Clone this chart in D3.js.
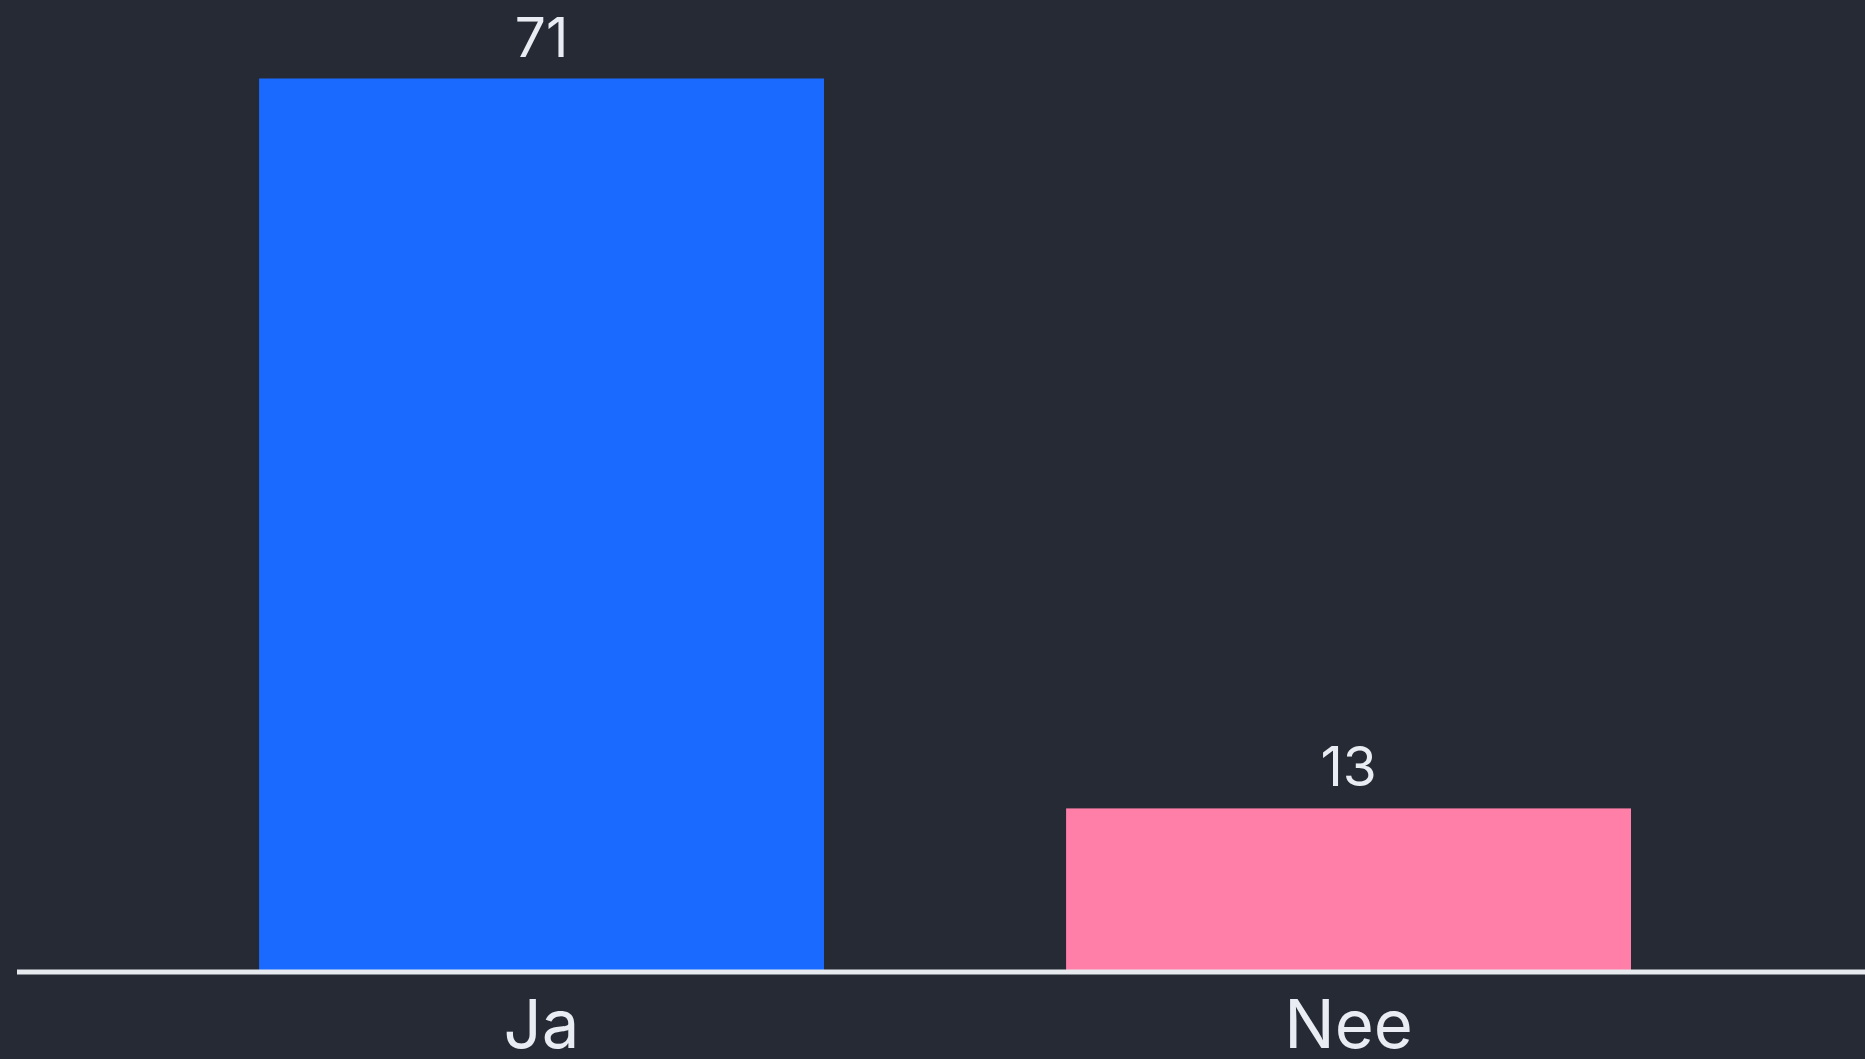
<!DOCTYPE html>
<html>
<head>
<meta charset="utf-8">
<script src="https://cdn.jsdelivr.net/npm/d3@7"></script>
<style>
  html, body { margin: 0; padding: 0; background: #262a34; overflow: hidden; }
  svg { display: block; }
</style>
</head>
<body>
<svg id="chart" width="1865" height="1059"></svg>
<script>
const categories = ["Ja", "Nee"];
const values = [71, 13];
const colors = ["#1a6aff", "#ff7fa8"];

const W = 1865, H = 1059;
const baseY = 972;
const svg = d3.select("#chart");
svg.append("rect").attr("width", W).attr("height", H).attr("fill", "#262a34");

const x = d3.scaleBand()
  .domain(categories)
  .range([17, 17 + 807 * 2.3])
  .paddingInner(0.3)
  .paddingOuter(0.3);

const y = d3.scaleLinear().domain([0, 71]).range([baseY, 78.5]);

const data = categories.map((c, i) => ({ c, v: values[i], col: colors[i] }));

svg.selectAll("rect.bar").data(data).enter().append("rect")
  .attr("class", "bar")
  .attr("x", d => x(d.c))
  .attr("width", x.bandwidth())
  .attr("y", d => y(d.v))
  .attr("height", d => baseY - y(d.v))
  .attr("fill", d => d.col);

svg.selectAll("text.val").data(data).enter().append("text")
  .attr("class", "val")
  .attr("x", d => x(d.c) + x.bandwidth() / 2)
  .attr("y", d => y(d.v) - 22)
  .attr("text-anchor", "middle")
  .attr("fill", "#e9edf3")
  .attr("font-family", "Inter, 'Open Sans', sans-serif")
  .attr("font-size", 55)
  .text(d => d.v);

const axis = d3.axisBottom(x).tickSize(0).tickPadding(0);
const g = svg.append("g").attr("transform", `translate(0,${baseY})`).call(axis);
g.select(".domain").remove();
g.append("line").attr("x1", 17).attr("x2", W).attr("y1", 0).attr("y2", 0)
  .attr("stroke", "#e6e9ee").attr("stroke-width", 5);
g.selectAll(".tick text")
  .attr("y", 76)
  .attr("dy", 0)
  .attr("fill", "#e9edf3")
  .attr("font-family", "Inter, 'Open Sans', sans-serif")
  .attr("font-size", 67);
</script>
</body>
</html>
